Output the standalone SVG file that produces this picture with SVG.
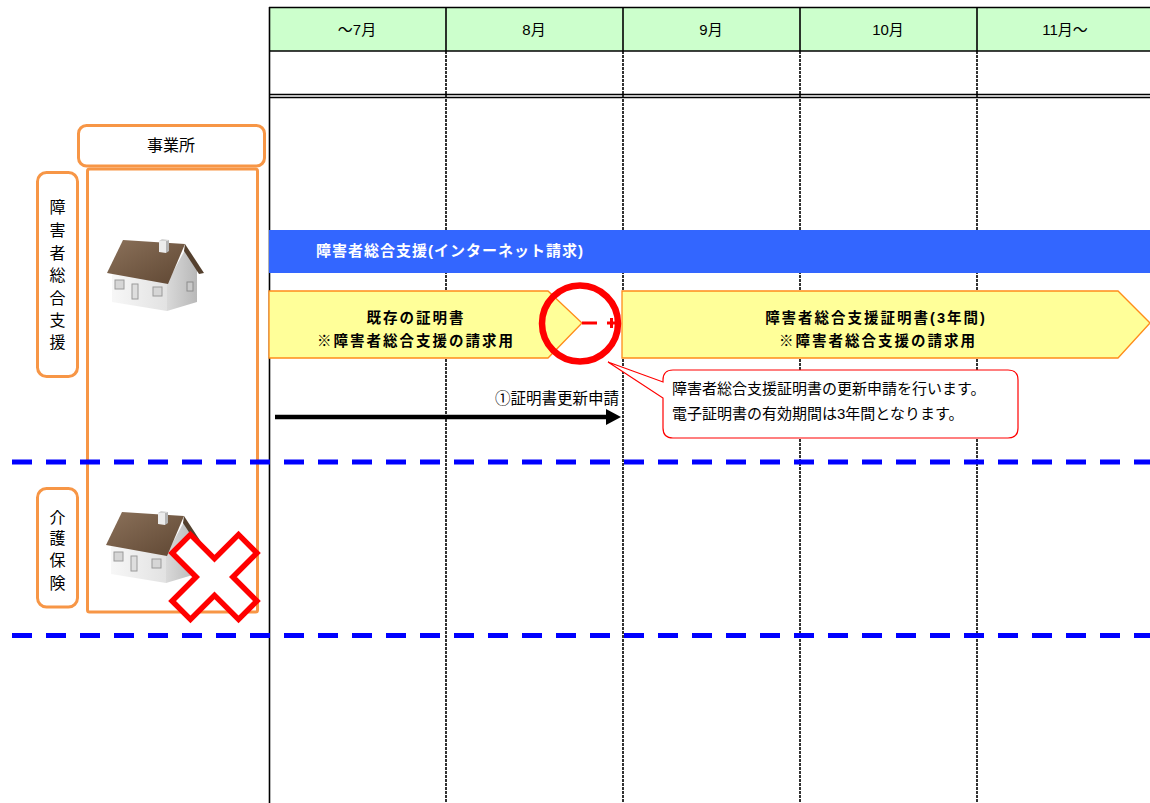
<svg xmlns="http://www.w3.org/2000/svg" width="1150" height="803" viewBox="0 0 1150 803">
  <style>
    .jp { font-family: "Liberation Sans", "Noto Sans CJK JP", sans-serif; fill: #000; }
    .hdr { font-size: 15px; text-anchor: middle; }
    .grid-solid { stroke: #000; stroke-width: 1.6; fill: none; }
    .grid-dash { stroke: #000; stroke-width: 1.6; stroke-dasharray: 3 1; fill: none; }
    .org { fill: #fff; stroke: #F79646; stroke-width: 3; }
    .vlabel { font-size: 16px; text-anchor: middle; }
    .cert { fill: #FFFF99; stroke: #FF8C1A; stroke-width: 1.3; }
    .certtxt { font-size: 14.5px; font-weight: bold; text-anchor: middle; letter-spacing: 2px; }
    .lane { stroke: #0000FF; stroke-width: 5; stroke-dasharray: 20 14; fill: none; }
  </style>
  <defs>
    <linearGradient id="wallFront" x1="0" y1="0" x2="1" y2="0">
      <stop offset="0" stop-color="#f7f7f7"/>
      <stop offset="1" stop-color="#e2e2e2"/>
    </linearGradient>
    <linearGradient id="wallSide" x1="0" y1="0" x2="1" y2="0">
      <stop offset="0" stop-color="#d9d9d9"/>
      <stop offset="1" stop-color="#b8b8b8"/>
    </linearGradient>
    <linearGradient id="roofGrad" x1="0" y1="0" x2="1" y2="1">
      <stop offset="0" stop-color="#8b715a"/>
      <stop offset="1" stop-color="#5f4733"/>
    </linearGradient>
    <!-- small house icon -->
    <g id="house">
      <polygon points="112,272 167,283 167,311 112,302" fill="url(#wallFront)"/>
      <polygon points="167,283 186,248 197,268 197,302 167,311" fill="url(#wallSide)"/>
      <polygon points="107,273 123,240 185,244 168,284" fill="url(#roofGrad)"/>
      <polygon points="185,244 204,273 199,274 184,251" fill="#54402e"/>
      <polygon points="159,241 166,241 166,253 159,252" fill="#ececec"/>
      <polygon points="166,241 169,240 169,251 166,253" fill="#b5b5b5"/>
      <polygon points="159,241 162,239 169,240 166,241" fill="#d2d2d2"/>
      <rect x="115" y="280" width="9" height="9" fill="#d6d6d6" stroke="#9a9a9a" stroke-width="1"/>
      <rect x="132" y="284" width="6" height="15" fill="#dedede" stroke="#9a9a9a" stroke-width="1"/>
      <rect x="153" y="287" width="9" height="9" fill="#d6d6d6" stroke="#9a9a9a" stroke-width="1"/>
      <rect x="187" y="282" width="6" height="9" fill="#c9c9c9" stroke="#8c8c8c" stroke-width="1"/>
    </g>
  </defs>

  <rect x="0" y="0" width="1150" height="803" fill="#fff"/>

  <!-- month table -->
  <g id="timeline-grid">
    <rect x="269" y="7.5" width="890" height="43.5" fill="#CCFFCC"/>
    <line class="grid-solid" x1="269" y1="7.5" x2="1150" y2="7.5"/>
    <line class="grid-solid" x1="269" y1="51" x2="1150" y2="51"/>
    <line class="grid-solid" x1="269" y1="94.5" x2="1150" y2="94.5" stroke-width="1.2"/>
    <line class="grid-solid" x1="269" y1="97.5" x2="1150" y2="97.5" stroke-width="1.2"/>
    <line class="grid-solid" x1="269.5" y1="7" x2="269.5" y2="803"/>
    <g class="grid-solid">
      <line x1="446" y1="7.5" x2="446" y2="51"/>
      <line x1="623" y1="7.5" x2="623" y2="51"/>
      <line x1="800" y1="7.5" x2="800" y2="51"/>
      <line x1="977" y1="7.5" x2="977" y2="51"/>
    </g>
    <g class="grid-dash">
      <line x1="446" y1="51" x2="446" y2="803"/>
      <line x1="623" y1="51" x2="623" y2="803"/>
      <line x1="800" y1="51" x2="800" y2="803"/>
      <line x1="977" y1="51" x2="977" y2="803"/>
    </g>
    <g class="jp hdr">
      <text x="357" y="35">～7月</text>
      <text x="534" y="35">8月</text>
      <text x="711" y="35">9月</text>
      <text x="888" y="35">10月</text>
      <text x="1065" y="35">11月～</text>
    </g>
  </g>

  <!-- service band -->
  <g id="band-support">
    <rect x="269" y="230" width="881" height="43" fill="#3366FF"/>
    <text class="jp" x="316" y="256" font-size="15" font-weight="bold" letter-spacing="1" style="fill:#fff">障害者総合支援(インターネット請求)</text>
  </g>

  <g id="cert-existing">
    <polygon class="cert" points="269,291 548,291 582,323 548,358 269,358"/>
    <text class="jp certtxt" x="416" y="323">既存の証明書</text>
    <text class="jp certtxt" x="416" y="346">※障害者総合支援の請求用</text>
  </g>

  <g id="cert-new">
    <polygon class="cert" points="622,291 1118,291 1150,323 1118,358 622,358"/>
    <text class="jp certtxt" x="876" y="323">障害者総合支援証明書(3年間)</text>
    <text class="jp certtxt" x="878" y="346">※障害者総合支援の請求用</text>
  </g>

  <!-- connectors -->
  <g id="connectors">
    <line x1="582" y1="323" x2="597" y2="323" stroke="#FF0000" stroke-width="3"/>
    <line x1="607" y1="323" x2="619" y2="323" stroke="#FF0000" stroke-width="3"/>
    <rect x="610" y="318" width="3" height="10" fill="#FF0000"/>
    <line x1="275" y1="417" x2="608" y2="417" stroke="#000" stroke-width="4.5"/>
    <polygon points="606,409 621,417 606,425" fill="#000"/>
  </g>

  <g id="renewal-mark">
    <circle cx="580" cy="323.5" r="38" fill="none" stroke="#FF0000" stroke-width="6.5"/>
  </g>

  <g id="renewal-label">
    <text class="jp" x="619" y="404" font-size="15.5" text-anchor="end">①証明書更新申請</text>
  </g>

  <g id="note-callout">
    <path d="M 673,370 L 1008,370 Q 1018,370 1018,380 L 1018,428 Q 1018,438 1008,438 L 673,438 Q 663,438 663,428 L 663,398 L 608,362 L 663,382 L 663,380 Q 663,370 673,370 Z" fill="#fff" stroke="#FF0000" stroke-width="1.2"/>
    <text class="jp" x="672" y="394" font-size="15">障害者総合支援証明書の更新申請を行います。</text>
    <text class="jp" x="672" y="419" font-size="15">電子証明書の有効期間は3年間となります。</text>
  </g>

  <!-- left side: office column and service labels -->
  <g id="office-column">
    <rect class="org" x="87.5" y="169" width="170" height="443" rx="2"/>
  </g>

  <g id="office-header">
    <rect class="org" x="78.5" y="125.5" width="186" height="40.5" rx="8"/>
    <text class="jp" x="171" y="151" font-size="16" text-anchor="middle">事業所</text>
  </g>

  <g id="label-support">
    <rect class="org" x="37.5" y="172.5" width="40" height="204" rx="9"/>
    <g class="jp vlabel">
      <text x="57.5" y="213">障</text>
      <text x="57.5" y="236">害</text>
      <text x="57.5" y="259">者</text>
      <text x="57.5" y="281">総</text>
      <text x="57.5" y="304">合</text>
      <text x="57.5" y="326">支</text>
      <text x="57.5" y="348">援</text>
    </g>
  </g>

  <g id="label-care">
    <rect class="org" x="37.5" y="488.5" width="40" height="118.5" rx="9"/>
    <g class="jp vlabel">
      <text x="57.5" y="523">介</text>
      <text x="57.5" y="544">護</text>
      <text x="57.5" y="566">保</text>
      <text x="57.5" y="589">険</text>
    </g>
  </g>

  <g id="office-support">
    <use href="#house"/>
  </g>

  <g id="office-care">
    <use href="#house" transform="translate(-1,272)"/>
    <path transform="translate(214.5,577) rotate(45)" d="M -13,-47 L 13,-47 L 13,-13 L 47,-13 L 47,13 L 13,13 L 13,47 L -13,47 L -13,13 L -47,13 L -47,-13 L -13,-13 Z" fill="#fff" stroke="#FF0000" stroke-width="5.5" stroke-linejoin="miter"/>
  </g>

  <!-- lane separators -->
  <g id="lane-separators">
    <line class="lane" x1="12" y1="462" x2="1150" y2="462"/>
    <line class="lane" x1="12" y1="635.5" x2="1150" y2="635.5"/>
  </g>
</svg>
